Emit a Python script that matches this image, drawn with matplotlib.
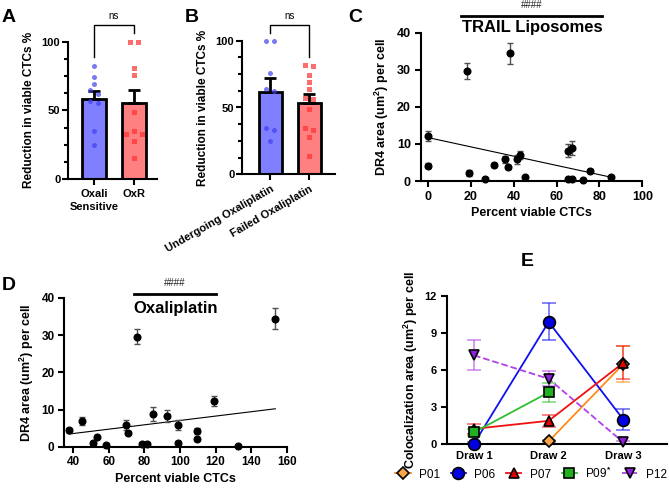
import numpy as np
import matplotlib
matplotlib.use('Agg')
import matplotlib.pyplot as plt
from matplotlib.ticker import MultipleLocator

plt.rcParams['font.family'] = ['Liberation Sans', 'DejaVu Sans']
plt.rcParams['font.weight'] = 'bold'
plt.rcParams['axes.labelweight'] = 'bold'
plt.rcParams['mathtext.fontset'] = 'custom'
plt.rcParams['mathtext.rm'] = 'Liberation Sans:bold'
plt.rcParams['mathtext.bf'] = 'Liberation Sans:bold'
plt.rcParams['mathtext.it'] = 'Liberation Sans:bold'
plt.rcParams['axes.linewidth'] = 1.5

# ---------------- data ----------------
a_categories = ['Oxali\nSensitive', 'OxR']
a_sensitive = [82, 74, 69, 65, 62, 57, 55, 35, 25]
a_oxr = [100, 100, 81, 76, 49, 35, 33, 33, 28, 15]

b_categories = ['Undergoing Oxaliplatin', 'Failed Oxaliplatin']
b_undergoing = [100, 100, 76, 64, 62, 35, 33, 25]
b_failed = [82, 81, 74, 69, 64, 57, 56, 49, 35, 33, 28, 14]

trail_viable = [0, 0, 18.1, 19.2, 26.3, 30.7, 35.7, 37.5, 38, 41.6, 43, 45.3,
                65.1, 67.3, 65.1, 67.3, 72.1, 75.4, 85.5]
trail_dr4 = [12.2, 4.1, 29.7, 2.2, 0.45, 4.4, 5.8, 3.7, 34.4, 5.8, 6.9, 1.1,
             8.2, 8.9, 0.5, 0.6, 0.2, 2.8, 1.0]
trail_err = [1.4, 0.7, 2.1, 0.8, 0.2, 0.5, 1.0, 0.4, 2.8, 1.3, 1.1, 0.3,
             1.8, 2.0, 0.2, 0.2, 0.1, 0.4, 0.3]
trail_fit = (-0.125, 11.7)   # slope, intercept of the drawn regression line

oxa_viable = [37.6, 44.7, 51.4, 53.5, 58.2, 69.6, 70.9, 75.6, 78.8, 81.6, 85,
              92.5, 99.1, 99.1, 109.8, 109.8, 119, 132.4, 153.6]
oxa_dr4 = [4.4, 6.9, 1.1, 2.7, 0.45, 5.8, 3.8, 29.6, 0.6, 0.7, 8.9, 8.3, 5.8,
           1.1, 4.2, 2.2, 12.3, 0.1, 34.4]
oxa_err = [0.6, 1.1, 0.3, 0.4, 0.2, 1.3, 0.5, 2.0, 0.2, 0.2, 1.9, 1.7, 1.3,
           0.3, 0.8, 0.5, 1.4, 0.1, 2.8]
oxa_fit = (0.0586, 1.2)      # slope, intercept of the drawn regression line

draws = ['Draw 1', 'Draw 2', 'Draw 3']
patients = ['P01', 'P06', 'P07', 'P09', 'P12']
coloc = {
    'P01': [np.nan, 0.24, 6.5],
    'P06': [0.05, 9.9, 2.0],
    'P07': [1.25, 1.9, 6.6],
    'P09': [0.97, 4.2, np.nan],
    'P12': [7.2, 5.3, 0.15],
}
coloc_err = {
    'P01': [np.nan, 0.1, 1.45],
    'P06': [0.1, 1.5, 0.85],
    'P07': [0.4, 0.5, 1.35],
    'P09': [0.3, 0.75, np.nan],
    'P12': [1.2, 0.6, 0.1],
}

# ---------------- helpers ----------------
BLUE_BAR, RED_BAR = '#7F7FFF', '#FF8080'
BLUE_DOT, RED_DOT = '#4040F0', '#FF3030'


def swarm(vals, thresh=3.5):
    vals = np.asarray(vals, float)
    order = np.argsort(-vals, kind='stable')
    groups, cur = [], [order[0]]
    for i in order[1:]:
        if vals[cur[-1]] - vals[i] < thresh:
            cur.append(i)
        else:
            groups.append(cur)
            cur = [i]
    groups.append(cur)
    offs = np.zeros(len(vals))
    for g in groups:
        n = len(g)
        if n % 2:
            seq = [0] + [s * k for k in range(1, n) for s in (-1, 1)]
        else:
            seq = [s * (k - 0.5) for k in range(1, n) for s in (-1, 1)]
        for j, idx in enumerate(g):
            offs[idx] = seq[j]
    return offs


def style_axes(ax, labelsize=8, pad=3):
    ax.spines['top'].set_visible(False)
    ax.spines['right'].set_visible(False)
    ax.tick_params(direction='out', length=4, width=1.5, labelsize=labelsize,
                   pad=pad)
    ax.tick_params(which='minor', direction='out', length=3, width=1.5)


def bar_panel(ax, groups, cats, xlim, step_units, rotate=False, bracket=None):
    x = np.arange(len(groups))
    means = np.array([np.mean(g) for g in groups])
    sems = np.array([np.std(g, ddof=1) / np.sqrt(len(g)) for g in groups])
    ax.bar(x, means, width=0.6, color=[BLUE_BAR, RED_BAR], edgecolor='k',
           linewidth=2, zorder=2)
    ax.errorbar(x, means, yerr=[np.zeros(len(x)), sems], fmt='none', ecolor='k',
                elinewidth=2, capsize=4.3, capthick=2, zorder=3)
    for i, (g, col, mk) in enumerate(zip(groups, [BLUE_DOT, RED_DOT], ['o', 's'])):
        offs = swarm(g) * step_units
        ax.plot(x[i] + offs, g, linestyle='none', marker=mk, ms=3.6,
                color=col, alpha=0.7, mew=0, zorder=4, clip_on=False)
    style_axes(ax)
    ax.tick_params(axis='y', which='both', pad=1.5)
    ax.set_ylim(0, 100)
    ax.set_xlim(*xlim)
    ax.spines['left'].set_bounds(0, 100)
    ax.set_yticks([0, 50, 100])
    ax.yaxis.set_minor_locator(MultipleLocator(12.5))
    ax.set_xticks(x)
    if rotate:
        ax.set_xticklabels(cats, rotation=30, ha='right', rotation_mode='anchor')
    else:
        ax.set_xticklabels(cats, linespacing=1.4)
    ax.set_ylabel('Reduction in viable CTCs %', fontsize=8.5, labelpad=5)
    l, top, r = bracket
    ax.plot([0, 0, 1, 1], [l, top, top, r], color='k', lw=1, clip_on=False)
    ax.text(0.5, 115, 'ns', ha='center', va='bottom', fontsize=7,
            fontweight='normal')


def scatter_panel(ax, xs, ys, errs, fit, xlim, xticks, title, line_x, line_y,
                  title_y, hash_y, labelsize):
    ax.errorbar(xs, ys, yerr=errs, fmt='o', color='k', ms=4.8, ecolor='#505050',
                elinewidth=1, capsize=2.5, capthick=1, zorder=3, clip_on=False)
    slope, icpt = fit
    lx = np.array([min(xs), max(xs)])
    ax.plot(lx, slope * lx + icpt, color='k', lw=0.8, zorder=2)
    style_axes(ax, labelsize)
    ax.set_xlim(*xlim)
    ax.set_ylim(0, 40)
    ax.set_yticks([0, 10, 20, 30, 40])
    ax.set_xticks(xticks)
    ax.set_xlabel('Percent viable CTCs', fontsize=9, labelpad=3)
    ax.set_ylabel(r'DR4 area (um$^{2}$) per cell', fontsize=9, labelpad=4)
    ax.plot(line_x, [line_y, line_y], color='k', lw=2, clip_on=False)
    ax.text(np.mean(line_x), hash_y, '####', ha='center', va='center',
            fontsize=7, fontweight='normal', color='#222222')
    ax.text(np.mean(line_x) + 0.5, title_y, title, ha='center', va='center',
            fontsize=12)


fig = plt.figure(figsize=(6.69, 4.9), dpi=100)
W, H = 669, 490


def add_ax(l, r, t, b):
    return fig.add_axes([l / W, 1 - b / H, (r - l) / W, (b - t) / H])


# Panel A
axA = add_ax(68, 157, 41.7, 179)
bar_panel(axA, [a_sensitive, a_oxr], a_categories, (-0.65, 1.575), 0.2,
          bracket=(89, 112, 106))

# Panel B
axB = add_ax(242, 335, 40.7, 174.3)
bar_panel(axB, [b_undergoing, b_failed], b_categories, (-0.73, 1.66), 0.21,
          rotate=True, bracket=(106, 112, 88))

# Panel C
axC = add_ax(420.7, 642.3, 32.7, 181)
scatter_panel(axC, trail_viable, trail_dr4, trail_err, trail_fit, (-3.5, 100),
              [0, 20, 40, 60, 80, 100], 'TRAIL Liposomes', [15.3, 81.2], 44.5,
              41.3, 47.6, 9)

# Panel D
axD = add_ax(64.3, 286.7, 298, 446.7)
scatter_panel(axD, oxa_viable, oxa_dr4, oxa_err, oxa_fit, (35, 160),
              [40, 60, 80, 100, 120, 140, 160], 'Oxaliplatin', [74.2, 120.3],
              41.1, 37.3, 44.1, 8.5)

# Panel E
axE = add_ax(446.7, 666.7, 296, 444.3)
styles = {
    'P01': dict(line='#FF8C1A', fill='#F7A54A', marker='D', ms=6, ls='-'),
    'P06': dict(line='#1010F0', fill='#0000E0', marker='o', ms=8.5, ls='-'),
    'P07': dict(line='#F01010', fill='#E00000', marker='^', ms=7.5, ls='-'),
    'P09': dict(line='#30C030', fill='#20B020', marker='s', ms=7, ls='-'),
    'P12': dict(line='#B040E8', fill='#9020E0', marker='v', ms=7.5, ls='--'),
}
xE = np.arange(len(draws))
handles = []
for p in patients:
    st = styles[p]
    axE.errorbar(xE, coloc[p], yerr=coloc_err[p], fmt='none',
                 ecolor=st['line'], alpha=0.6, elinewidth=1.2,
                 capsize=5, capthick=1.2, zorder=2)
    h, = axE.plot(xE, coloc[p], color=st['line'], ls=st['ls'], lw=1.3,
                  marker=st['marker'], ms=st['ms'], mfc=st['fill'], mec='k',
                  mew=1.2, zorder=3, clip_on=False)
    handles.append(h)
style_axes(axE)
axE.set_xlim(-0.365, 2.58)
axE.set_ylim(0, 12)
axE.set_yticks([0, 3, 6, 9, 12])
axE.set_xticks(xE)
axE.set_xticklabels(draws)
axE.tick_params(axis='x', length=0, pad=5)
axE.set_ylabel(r'Colocalization area (um$^{2}$) per cell', fontsize=9,
               labelpad=3)
labels = [p if p != 'P09' else r'P09$^{*}$' for p in patients]
fig.legend(handles, labels, loc='center', bbox_to_anchor=(531 / W, 1 - 473 / H),
           ncol=5, frameon=False, handlelength=1.3, handletextpad=0.7,
           columnspacing=0.9, borderpad=0, borderaxespad=0,
           prop=dict(weight='normal', size=8.5))

# Panel letters
for letter, (px, py) in {'A': (2, 17.5), 'B': (185, 17.5), 'C': (348, 17.5),
                         'D': (2, 286), 'E': (521, 262)}.items():
    fig.text(px / W, 1 - py / H, letter, fontsize=14, fontweight='bold',
             ha='left', va='center')

fig.savefig('out.png', dpi=100)
